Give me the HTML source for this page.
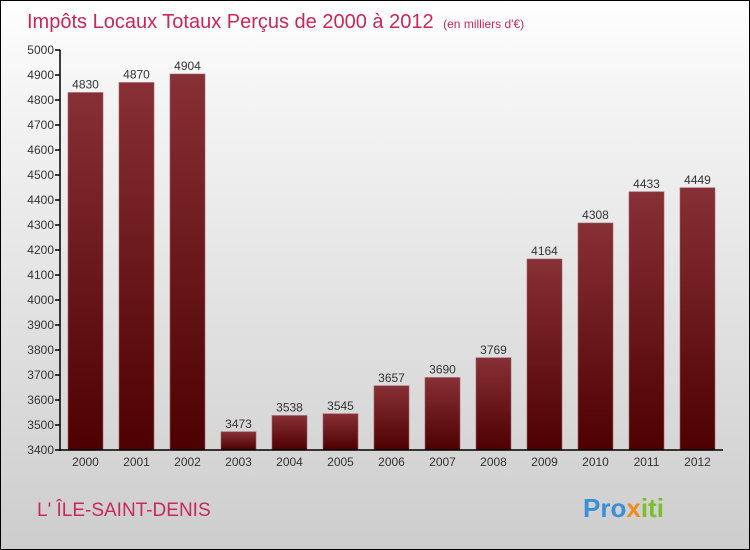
<!DOCTYPE html>
<html><head><meta charset="utf-8"><style>
body{margin:0}
#wrap{position:relative;width:748px;height:548px;border:1px solid #000;background:linear-gradient(#fefefe,#f3f3f3 20%,#cdcdcd);font-family:"Liberation Sans",sans-serif;overflow:hidden}
svg text{font-family:"Liberation Sans",sans-serif}
</style></head><body>
<div id="wrap">
<svg id="chart" width="748" height="548">
<defs>
<linearGradient id="bg" x1="0" y1="0" x2="0" y2="1"><stop offset="0" stop-color="#873036"/><stop offset="1" stop-color="#4e0000"/></linearGradient>
</defs>
<text x="26" y="27" font-size="20" fill="#c8285a">Impôts Locaux Totaux Perçus de 2000 à 2012 <tspan font-size="12" dx="4">(en milliers d'€)</tspan></text>
<text x="36" y="515" font-size="19" fill="#c8285a">L' ÎLE-SAINT-DENIS</text>
<text x="582" y="516" font-size="26" font-weight="bold" fill="#3a8fd8">Pro<tspan fill="#f08c1e">x</tspan><tspan fill="#7cbd2a">iti</tspan></text>
<g id="plot"></g>
</svg>
</div>
<script>
const categories=["2000","2001","2002","2003","2004","2005","2006","2007","2008","2009","2010","2011","2012"];
const values=[4830,4870,4904,3473,3538,3545,3657,3690,3769,4164,4308,4433,4449];
const ticks=[3400,3500,3600,3700,3800,3900,4000,4100,4200,4300,4400,4500,4600,4700,4800,4900,5000];
const yMin=3400,yMax=5000,plotTop=49,plotBottom=449,plotLeft=59,step=51,barW=35;
const yS=v=>plotBottom-(v-yMin)/(yMax-yMin)*(plotBottom-plotTop);
const xS=i=>plotLeft+8+i*step;
const g=document.getElementById('plot');
const NS="http://www.w3.org/2000/svg";
function mk(t,a){const e=document.createElementNS(NS,t);for(const k in a)e.setAttribute(k,a[k]);g.appendChild(e);return e;}
ticks.forEach(t=>{
  const l=mk('line',{x1:plotLeft-5,x2:plotLeft,y1:yS(t),y2:yS(t),stroke:'#000','stroke-width':1.5});
  
  
  const tx=mk('text',{x:plotLeft-6,y:yS(t)+4,'font-size':12,fill:'#333','text-anchor':'end'});
  tx.textContent=t;
  
  
});
values.forEach((v,i)=>{
  const r=mk('rect',{x:xS(i),y:yS(v),width:barW,height:plotBottom-yS(v),fill:'url(#bg)',stroke:'#a06066','stroke-width':0.6});
  
  
  const vl=mk('text',{x:xS(i)+barW/2,y:yS(v)-4,'font-size':12,fill:'#333','text-anchor':'middle'});
  vl.textContent=v;
  
  
  const cl=mk('text',{x:xS(i)+barW/2,y:plotBottom+16,'font-size':12,fill:'#333','text-anchor':'middle'});
  cl.textContent=categories[i];
  
  
});
const ya=mk('line',{x1:plotLeft,x2:plotLeft,y1:plotTop,y2:plotBottom+1,stroke:'#000','stroke-width':1.5});


const xa=mk('line',{x1:plotLeft,x2:plotLeft+13*step,y1:plotBottom,y2:plotBottom,stroke:'#000','stroke-width':1.5});


</script>
</body></html>
